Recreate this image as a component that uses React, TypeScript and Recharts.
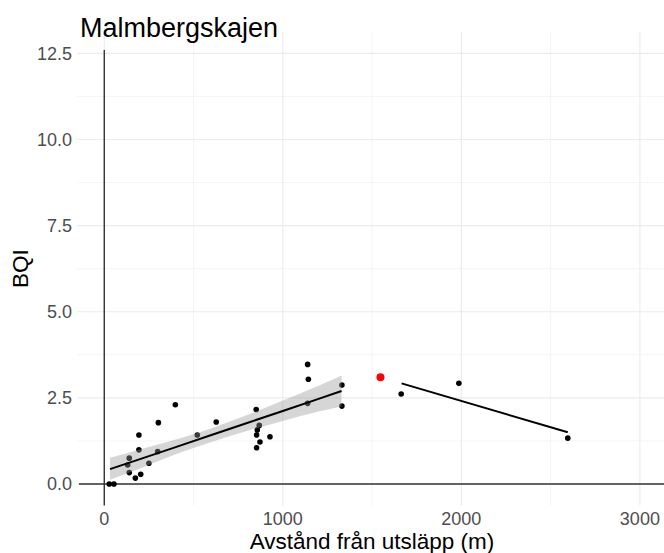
import {
  ComposedChart,
  Scatter,
  Line,
  Area,
  XAxis,
  YAxis,
  CartesianGrid,
  ReferenceLine,
} from "recharts";

// BQI samples by distance from the outlet (m)
const distance = [
  28, 54, 131, 140, 140, 174, 194, 194, 204, 250, 299, 303, 398, 521, 627,
  851, 853, 853, 857, 868, 872, 928, 1139, 1143, 1139, 1331, 1331,
  1663, 1986, 2596,
];
const bqi = [
  0, 0, 0.55, 0.75, 0.33, 0.17, 0.99, 1.42, 0.28, 0.6, 0.94, 1.78, 2.3, 1.42, 1.8,
  2.16, 1.42, 1.05, 1.57, 1.7, 1.22, 1.37, 3.47, 3.04, 2.34, 2.87, 2.26,
  2.61, 2.92, 1.33,
];

// the outlier station, drawn in red
const redDistance = [1547];
const redBqi = [3.1];

// linear fit near the outlet, with its confidence band
const nearFitX = [32, 200, 400, 600, 800, 1000, 1200, 1329];
const nearFitY = [0.43, 0.72, 1.07, 1.42, 1.77, 2.12, 2.47, 2.7];
const nearLow = [0.12, 0.45, 0.86, 1.22, 1.54, 1.83, 2.1, 2.25];
const nearHigh = [0.76, 1.0, 1.29, 1.62, 2.0, 2.42, 2.85, 3.15];

// linear fit further out (no band)
const farFitX = [1665, 2596];
const farFitY = [2.92, 1.5];

const xTicks = [0, 1000, 2000, 3000];
const xMinor = [500, 1500, 2500];
const yTicks = [0, 2.5, 5, 7.5, 10, 12.5];
const yMinor = [1.25, 3.75, 6.25, 8.75, 11.25];

const points = distance.map((x, i) => ({ x, y: bqi[i] }));
const redPoints = redDistance.map((x, i) => ({ x, y: redBqi[i] }));
const nearLine = nearFitX.map((x, i) => ({ x, y: nearFitY[i] }));
const nearBand = nearFitX.map((x, i) => ({ x, band: [nearLow[i], nearHigh[i]] }));
const farLine = farFitX.map((x, i) => ({ x, y: farFitY[i] }));

const W = 664;
const H = 553;
const X_DOMAIN: [number, number] = [-150, 3135];
const Y_DOMAIN: [number, number] = [-0.625, 13.125];
const TOP = 31.8;
const AXIS_W = 77.5;
const AXIS_H = 47.5;

const font = "'Liberation Sans', Arial, sans-serif";
const tickStyle = { fill: "#4d4d4d", fontSize: 18, fontFamily: font };

const dot = (r: number, fill: string) => (props: any) =>
  <circle cx={props.cx} cy={props.cy} r={r} fill={fill} />;

// the smoother layer sits on a second svg so the band shades the points below it
function FitLayer() {
  return (
    <ComposedChart
      width={W}
      height={H}
      margin={{ top: TOP, right: 0, bottom: AXIS_H, left: AXIS_W }}
      style={{ position: "absolute", left: 0, top: 0 }}
    >
      <XAxis type="number" dataKey="x" domain={X_DOMAIN} allowDataOverflow hide />
      <YAxis type="number" domain={Y_DOMAIN} allowDataOverflow hide />
      <Area
        data={nearBand}
        dataKey="band"
        type="monotone"
        stroke="none"
        fill="#999999"
        fillOpacity={0.4}
        isAnimationActive={false}
      />
      <Line
        data={nearLine}
        dataKey="y"
        type="linear"
        stroke="#000000"
        strokeWidth={2}
        dot={false}
        isAnimationActive={false}
      />
      <Line
        data={farLine}
        dataKey="y"
        type="linear"
        stroke="#000000"
        strokeWidth={2}
        dot={false}
        isAnimationActive={false}
      />
    </ComposedChart>
  );
}

export default function App() {
  return (
    <div style={{ position: "absolute", left: 0, top: 0, width: W, height: H, fontFamily: font }}>
      <div style={{ position: "absolute", left: 0, top: 0 }}>
        <ComposedChart
          width={W}
          height={H}
          margin={{ top: TOP, right: 0, bottom: 0, left: 0 }}
        >
          <CartesianGrid
            horizontalValues={yMinor}
            verticalValues={xMinor}
            stroke="#f3f3f3"
            strokeWidth={0.8}
          />
          <CartesianGrid
            horizontalValues={yTicks}
            verticalValues={xTicks}
            stroke="#ebebeb"
            strokeWidth={1.1}
          />
          <XAxis
            type="number"
            dataKey="x"
            domain={X_DOMAIN}
            allowDataOverflow
            ticks={xTicks}
            axisLine={false}
            tickLine={false}
            tickSize={0}
            tickMargin={7}
            height={AXIS_H}
            tick={tickStyle}
          />
          <YAxis
            type="number"
            domain={Y_DOMAIN}
            allowDataOverflow
            ticks={yTicks}
            tickFormatter={(v: number) => v.toFixed(1)}
            axisLine={false}
            tickLine={false}
            tickSize={0}
            tickMargin={5.5}
            width={AXIS_W}
            tick={tickStyle}
          />
          <ReferenceLine
            segment={[{ x: -142, y: 0 }, { x: 3135, y: 0 }]}
            stroke="#333333"
            strokeWidth={1.4}
            ifOverflow="visible"
          />
          <ReferenceLine
            segment={[{ x: 0, y: -0.625 }, { x: 0, y: 12.6 }]}
            stroke="#333333"
            strokeWidth={1.4}
            ifOverflow="visible"
          />
          <Scatter
            data={points}
            dataKey="y"
            shape={dot(2.8, "#000000")}
            isAnimationActive={false}
          />
          <Scatter
            data={redPoints}
            dataKey="y"
            shape={dot(4, "#ff0000")}
            isAnimationActive={false}
          />
          <text x={80} y={37} fontSize={27} fontFamily={font} fill="#000000">
            Malmbergskajen
          </text>
          <text
            x={372}
            y={549}
            fontSize={22.5}
            fontFamily={font}
            fill="#000000"
            textAnchor="middle"
          >
            Avstånd från utsläpp (m)
          </text>
          <text
            x={28}
            y={268.6}
            fontSize={22.5}
            fontFamily={font}
            fill="#000000"
            textAnchor="middle"
            transform="rotate(-90 28 268.6)"
          >
            BQI
          </text>
        </ComposedChart>
      </div>
      <FitLayer />
    </div>
  );
}
